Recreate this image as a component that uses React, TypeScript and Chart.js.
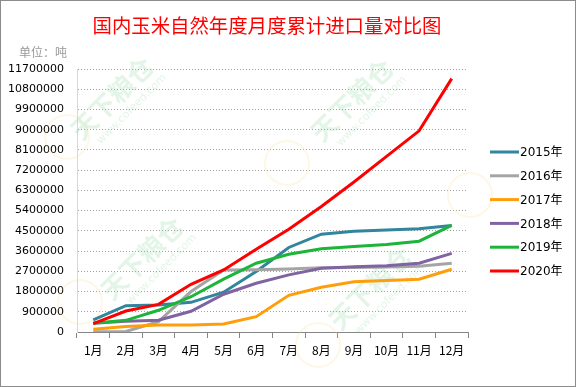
import React, { useEffect, useRef } from "react";
import { Chart, registerables } from "chart.js";

Chart.register(...registerables);

const months = ["1月", "2月", "3月", "4月", "5月", "6月", "7月", "8月", "9月", "10月", "11月", "12月"];
const seriesNames = ["2015年", "2016年", "2017年", "2018年", "2019年", "2020年"];
const seriesColors = ["#31859C", "#A5A5A5", "#FF9E0B", "#8064A2", "#1DB43A", "#FF0000"];

const y2015 = [534000, 1173000, 1200000, 1320000, 1770000, 2690000, 3760000, 4350000, 4480000, 4540000, 4590000, 4740000];
const y2016 = [10000, 20000, 460000, 1800000, 2760000, 2770000, 2800000, 2860000, 2870000, 2890000, 2930000, 3060000];
const y2017 = [120000, 240000, 310000, 310000, 360000, 680000, 1630000, 1990000, 2240000, 2290000, 2350000, 2790000];
const y2018 = [390000, 475000, 520000, 920000, 1680000, 2170000, 2540000, 2840000, 2900000, 2950000, 3060000, 3500000];
const y2019 = [390000, 520000, 965000, 1570000, 2350000, 3060000, 3460000, 3700000, 3800000, 3890000, 4040000, 4740000];
const y2020 = [370000, 935000, 1230000, 2120000, 2760000, 3680000, 4570000, 5580000, 6670000, 7810000, 8950000, 11270000];
const seriesData = [y2015, y2016, y2017, y2018, y2019, y2020];

const titleText = "国内玉米自然年度月度累计进口量对比图";
const unitText = "单位：吨";
const watermarkText = "天下粮仓";
const watermarkSub = "www.cofeed.com";
const yMax = 11700000;
const yStep = 900000;

const CJK = '"Noto Sans CJK SC", "DejaVu Sans", sans-serif';

const watermarkSpots = [
  [112, 98],
  [352, 100],
  [142, 258],
  [370, 288],
];
const logoSpots = [
  [67, 137],
  [287, 163],
  [80, 302],
  [470, 195],
  [318, 345],
];

const watermarkPlugin = {
  id: "watermark",
  beforeDatasetsDraw(chart: any) {
    const ctx = chart.ctx;
    ctx.save();
    logoSpots.forEach(([x, y]) => {
      ctx.strokeStyle = "rgba(245, 225, 140, 0.22)";
      ctx.lineWidth = 2;
      ctx.beginPath();
      ctx.arc(x, y, 22, 0, Math.PI * 2);
      ctx.stroke();
    });
    watermarkSpots.forEach(([x, y]) => {
      ctx.save();
      ctx.translate(x, y);
      ctx.rotate(-Math.PI / 4);
      ctx.fillStyle = "rgba(140, 215, 160, 0.25)";
      ctx.font = `bold 26px ${CJK}`;
      ctx.textAlign = "center";
      ctx.textBaseline = "middle";
      ctx.fillText(watermarkText, 0, 0);
      ctx.font = `11px "DejaVu Sans", sans-serif`;
      ctx.fillText(watermarkSub, 6, 22);
      ctx.restore();
    });
    ctx.restore();
  },
};

const decorPlugin = {
  id: "decor",
  afterDraw(chart: any) {
    const ctx = chart.ctx;
    ctx.save();
    ctx.strokeStyle = "#8c8c8c";
    ctx.lineWidth = 1;
    ctx.strokeRect(0.5, 0.5, chart.width - 1, chart.height - 1);
    let size = 22;
    ctx.font = `${size}px ${CJK}`;
    const w = ctx.measureText(titleText).width;
    size = Math.max(10, size * (350 / w));
    ctx.font = `${size.toFixed(1)}px ${CJK}`;
    ctx.fillStyle = "#FF0000";
    ctx.textAlign = "center";
    ctx.textBaseline = "middle";
    ctx.fillText(titleText, 267, 26);
    ctx.fillStyle = "#999999";
    ctx.font = `12px ${CJK}`;
    ctx.textAlign = "left";
    ctx.fillText(unitText, 19, 52);
    ctx.font = `12px "DejaVu Sans", ${CJK}`;
    seriesNames.forEach((name, i) => {
      const y = 152 + i * 23.8;
      ctx.strokeStyle = seriesColors[i];
      ctx.lineWidth = 3;
      ctx.beginPath();
      ctx.moveTo(490, y);
      ctx.lineTo(519, y);
      ctx.stroke();
      ctx.fillStyle = "#000";
      ctx.fillText(name, 520, y + 1);
    });
    ctx.restore();
  },
};

export default function App() {
  const ref = useRef<HTMLCanvasElement>(null);
  useEffect(() => {
    const chart = new Chart(ref.current!, {
      type: "line",
      data: {
        labels: months,
        datasets: seriesNames.map((name, i) => ({
          label: name,
          data: seriesData[i],
          borderColor: seriesColors[i],
          backgroundColor: seriesColors[i],
          borderWidth: 3,
          pointRadius: 0,
          tension: 0,
          fill: false,
          order: seriesNames.length - i,
        })),
      },
      options: {
        responsive: false,
        animation: false,
        events: [],
        layout: { padding: { top: 69, right: 108, left: 0, bottom: 0 } },
        plugins: { legend: { display: false }, tooltip: { enabled: false }, title: { display: false } },
        scales: {
          x: {
            type: "category",
            offset: true,
            afterFit: (s: any) => { s.height = 55; },
            grid: { offset: true, drawOnChartArea: false, drawTicks: true, tickLength: 6, color: "#868686" },
            border: { color: "#868686", width: 1 },
            ticks: { color: "#000", padding: 5, font: { size: 12, family: CJK }, maxRotation: 0, autoSkip: false },
          },
          y: {
            min: 0,
            max: yMax,
            afterFit: (s: any) => { s.width = 77; },
            grid: { drawTicks: false, color: "#A0A0A0", lineWidth: 1 },
            border: { color: "#D4D8EC", dash: [1, 2], width: 1 },
            ticks: {
              stepSize: yStep,
              autoSkip: false,
              padding: 13,
              color: "#000",
              font: { size: 11, family: '"DejaVu Sans", sans-serif' },
              callback: (v: any) => String(v),
            },
          },
        },
      },
      plugins: [watermarkPlugin, decorPlugin],
    } as any);
    return () => chart.destroy();
  }, []);
  return (
    <div style={{ position: "fixed", left: 0, top: 0, width: 576, height: 387, background: "#fff" }}>
      <canvas ref={ref} width={576} height={387} style={{ width: 576, height: 387, display: "block" }} />
    </div>
  );
}
